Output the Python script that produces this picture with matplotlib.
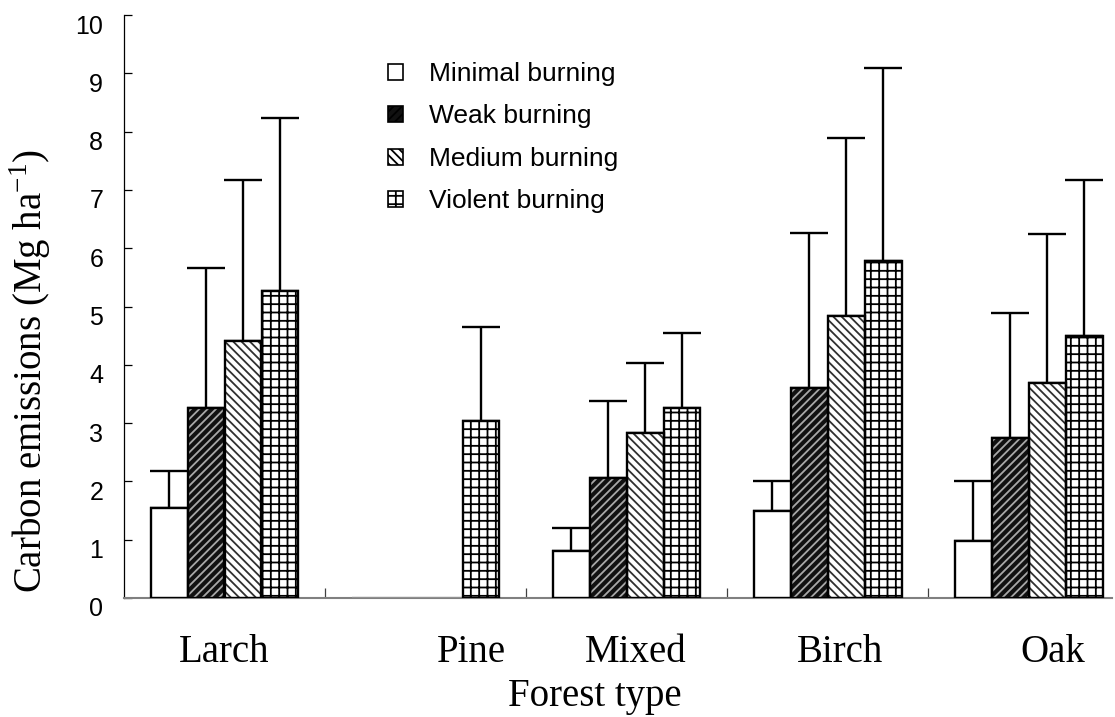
import numpy as np
import matplotlib.pyplot as plt
from matplotlib.patches import Patch
from matplotlib.transforms import ScaledTranslation

forest_types = ["Larch", "Pine", "Mixed", "Birch", "Oak"]
burn_levels = ["Minimal burning", "Weak burning", "Medium burning", "Violent burning"]

# mean carbon emissions (Mg/ha) per forest type
minimal = [1.54, 0.0, 0.81, 1.49, 0.98]
weak = [3.26, 0.0, 2.06, 3.60, 2.74]
medium = [4.41, 0.0, 2.83, 4.84, 3.69]
violent = [5.27, 3.04, 3.26, 5.78, 4.49]

# upper error bars, nan where none was drawn
minimal_err = [0.64, np.nan, 0.39, 0.52, 1.03]
weak_err = [2.40, np.nan, 1.32, 2.66, 2.15]
medium_err = [2.76, np.nan, 1.20, 3.05, 2.55]
violent_err = [2.96, 1.61, 1.29, 3.31, 2.68]

yticks = list(range(0, 11))
# category labels sit a bit right of the group centres in the original
label_shift = [0.0, 0.23, 0.045, 0.06, 0.12]

means = [minimal, weak, medium, violent]
errs = [minimal_err, weak_err, medium_err, violent_err]
styles = [
    dict(face="white", hatch=None, hcol="black"),
    dict(face="#111111", hatch="////", hcol="#a8a8a8"),
    dict(face="white", hatch="\\\\\\\\", hcol="#303030"),
    dict(face="white", hatch="++", hcol="black"),
]

plt.rcParams["hatch.linewidth"] = 1.3
serif = "Liberation Serif"
sans = "Liberation Sans"

fig = plt.figure(figsize=(11.15, 7.17), dpi=100)
ax = fig.add_axes([124 / 1115, 1 - 598 / 717, 988 / 1115, 583 / 717])

x = np.arange(len(forest_types))
w = 0.184
for j, (m, e, st) in enumerate(zip(means, errs, styles)):
    xs = x + (j - 1.5) * w
    m = np.array(m)
    e = np.array(e)
    lower = np.where(np.isnan(e), np.nan, 0.0)
    ax.errorbar(xs, m, yerr=[lower, e], fmt="none", ecolor="black",
                elinewidth=1.7, capsize=14, capthick=1.7, zorder=1)
    ax.bar(xs, m, w, color=st["face"], hatch=st["hatch"],
           edgecolor=st["hcol"], linewidth=0, zorder=2)
    edge = ["#909090" if v == 0 else "black" for v in m]
    ax.bar(xs, m, w * 0.999, fill=False, edgecolor=edge, linewidth=1.7,
           zorder=3)

ax.set_xlim(-0.5, 4.415)
ax.set_ylim(0, 10)
ax.spines["top"].set_visible(False)
ax.spines["right"].set_visible(False)
ax.spines["bottom"].set_color("#808080")
ax.spines["bottom"].set_linewidth(1.5)
ax.spines["left"].set_linewidth(0.9)

ax.set_yticks(yticks)
ax.tick_params(axis="y", direction="in", length=6, width=0.9, pad=15,
               labelsize=18)
for lab in ax.get_yticklabels():
    lab.set_fontfamily(sans)
    lab.set_transform(lab.get_transform() +
                      ScaledTranslation(0, -0.09, fig.dpi_scale_trans))

ax.set_xticks(x + np.array(label_shift))
ax.set_xticklabels(forest_types, fontfamily=serif, fontsize=28)
ax.tick_params(axis="x", which="major", length=0, pad=26)
ax.set_xticks(x[:-1] + 0.5, minor=True)
ax.tick_params(axis="x", which="minor", direction="in", length=7,
               width=0.9, color="#404040")

ax.set_xlabel("Forest type", fontfamily=serif, fontsize=28)
ax.xaxis.set_label_coords(0.477, -0.137)
ax.set_ylabel(r"Carbon emissions (Mg ha$^{\mathregular{-1}}$)",
              fontfamily=serif, fontsize=28)
ax.yaxis.set_label_coords(-0.072, 0.39)

handles = [Patch(facecolor=st["face"], hatch=st["hatch"], edgecolor="black",
                 linewidth=1.2) for st in styles]
leg = ax.legend(handles, burn_levels, loc="upper left",
                bbox_to_anchor=(388 / 1115, 1 - 62 / 717),
                bbox_transform=fig.transFigure, frameon=False,
                prop={"family": sans, "size": 19}, handlelength=0.55,
                handleheight=0.55, handletextpad=1.0, labelspacing=0.7,
                borderpad=0, borderaxespad=0)
# weak handle: black with grey stripes like the bars
leg.legend_handles[1].set_facecolor("#111111")

fig.savefig("out.png", dpi=100)
